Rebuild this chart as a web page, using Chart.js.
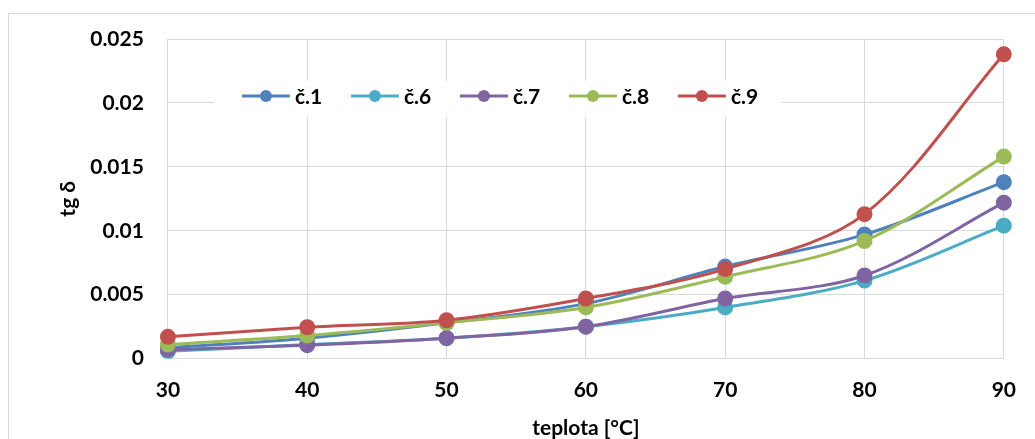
<!DOCTYPE html>
<html>
<head>
<meta charset="utf-8">
<script src="https://cdn.jsdelivr.net/npm/chart.js@4.4.1/dist/chart.umd.min.js"></script>
<style>
  html, body { margin: 0; padding: 0; background: #fff; overflow: hidden; }
  #wrap { position: relative; width: 1035px; height: 439px; }
</style>
</head>
<body>
<div id="wrap"><canvas id="c" width="1035" height="439"></canvas></div>
<script>
const temperatures = ['30', '40', '50', '60', '70', '80', '90'];
const seriesNames = ['č.1', 'č.6', 'č.7', 'č.8', 'č.9'];
const s1 = [0.00084, 0.0016, 0.0028, 0.0043, 0.0072, 0.0097, 0.0138];
const s6 = [0.00057, 0.0011, 0.0016, 0.0025, 0.0040, 0.0061, 0.0104];
const s7 = [0.0007, 0.00105, 0.0016, 0.0025, 0.0047, 0.0065, 0.0122];
const s8 = [0.0011, 0.0018, 0.0028, 0.0040, 0.0064, 0.0092, 0.0158];
const s9 = [0.0017, 0.00245, 0.0030, 0.0047, 0.0070, 0.0113, 0.0238];
const seriesColors = ['#4F81BD', '#4BACC6', '#8064A2', '#9BBB59', '#C0504D'];
const yTickValues = [0, 0.005, 0.01, 0.015, 0.02, 0.025];

const FONT = 'Lato, "Open Sans", sans-serif';
const FSIZE = 21;
const allSeries = [s1, s6, s7, s8, s9];

const datasets = allSeries.map((d, i) => ({
  label: seriesNames[i],
  data: d,
  borderColor: seriesColors[i],
  backgroundColor: seriesColors[i],
  pointBackgroundColor: seriesColors[i],
  pointBorderColor: seriesColors[i],
  borderWidth: 3,
  pointRadius: 6.5,
  pointHoverRadius: 6.5,
  tension: 0.33,
  fill: false,
  order: allSeries.length - i
}));

const frame = {
  id: 'frame',
  beforeDraw(chart) {
    const ctx = chart.ctx;
    ctx.save();
    ctx.fillStyle = '#fff';
    ctx.fillRect(0, 0, chart.width, chart.height);
    ctx.strokeStyle = '#d9d9d9';
    ctx.lineWidth = 1;
    ctx.strokeRect(8.5, 13.5, chart.width + 20, chart.height + 20);
    ctx.restore();
  }
};

const innerLegend = {
  id: 'innerLegend',
  afterDatasetsDraw(chart) {
    const ctx = chart.ctx;
    const area = chart.chartArea;
    const x0 = area.left + 74;
    const y = area.top + 57;
    const step = 109;
    ctx.save();
    ctx.fillStyle = '#fff';
    ctx.fillRect(area.left + 46, area.top + 42, 567, 36);
    ctx.font = 'bold ' + FSIZE + 'px ' + FONT;
    ctx.textBaseline = 'middle';
    ctx.textAlign = 'left';
    chart.data.datasets.forEach((ds, i) => {
      const lx = x0 + i * step;
      ctx.strokeStyle = ds.borderColor;
      ctx.lineWidth = 3;
      ctx.beginPath();
      ctx.moveTo(lx, y);
      ctx.lineTo(lx + 48, y);
      ctx.stroke();
      ctx.fillStyle = ds.borderColor;
      ctx.beginPath();
      ctx.arc(lx + 24, y, 6, 0, Math.PI * 2);
      ctx.fill();
      ctx.fillStyle = '#000';
      ctx.fillText(ds.label, lx + 53, y + 1);
    });
    ctx.restore();
  }
};

new Chart(document.getElementById('c'), {
  type: 'line',
  data: { labels: temperatures, datasets },
  options: {
    responsive: false,
    animation: false,
    devicePixelRatio: 1,
    layout: { padding: { left: 50, right: 31, top: 39, bottom: 0 } },
    plugins: {
      legend: { display: false },
      tooltip: { enabled: false }
    },
    scales: {
      x: {
        type: 'category',
        offset: false,
        grid: { color: '#d9d9d9', lineWidth: 1, drawTicks: false },
        border: { color: '#d9d9d9', width: 1 },
        ticks: { color: '#000', font: { family: FONT, size: FSIZE, weight: 'bold' }, padding: 19, maxRotation: 0 },
        title: { display: true, text: 'teplota [°C]', color: '#000', font: { family: FONT, size: FSIZE, weight: 'bold' }, padding: { top: -6, bottom: -2 } }
      },
      y: {
        min: 0,
        max: 0.025,
        afterBuildTicks(scale) { scale.ticks = yTickValues.map(v => ({ value: v })); },
        grid: { color: '#d9d9d9', lineWidth: 1, drawTicks: false },
        border: { color: '#d9d9d9', width: 1 },
        ticks: {
          color: '#000',
          font: { family: FONT, size: FSIZE, weight: 'bold' },
          padding: 24,
          callback: v => String(Number(Number(v).toFixed(3)))
        },
        title: { display: true, text: 'tg δ', color: '#000', font: { family: FONT, size: FSIZE, weight: 'bold' }, padding: { top: 6, bottom: -15 } }
      }
    }
  },
  plugins: [frame, innerLegend]
});
</script>
</body>
</html>
